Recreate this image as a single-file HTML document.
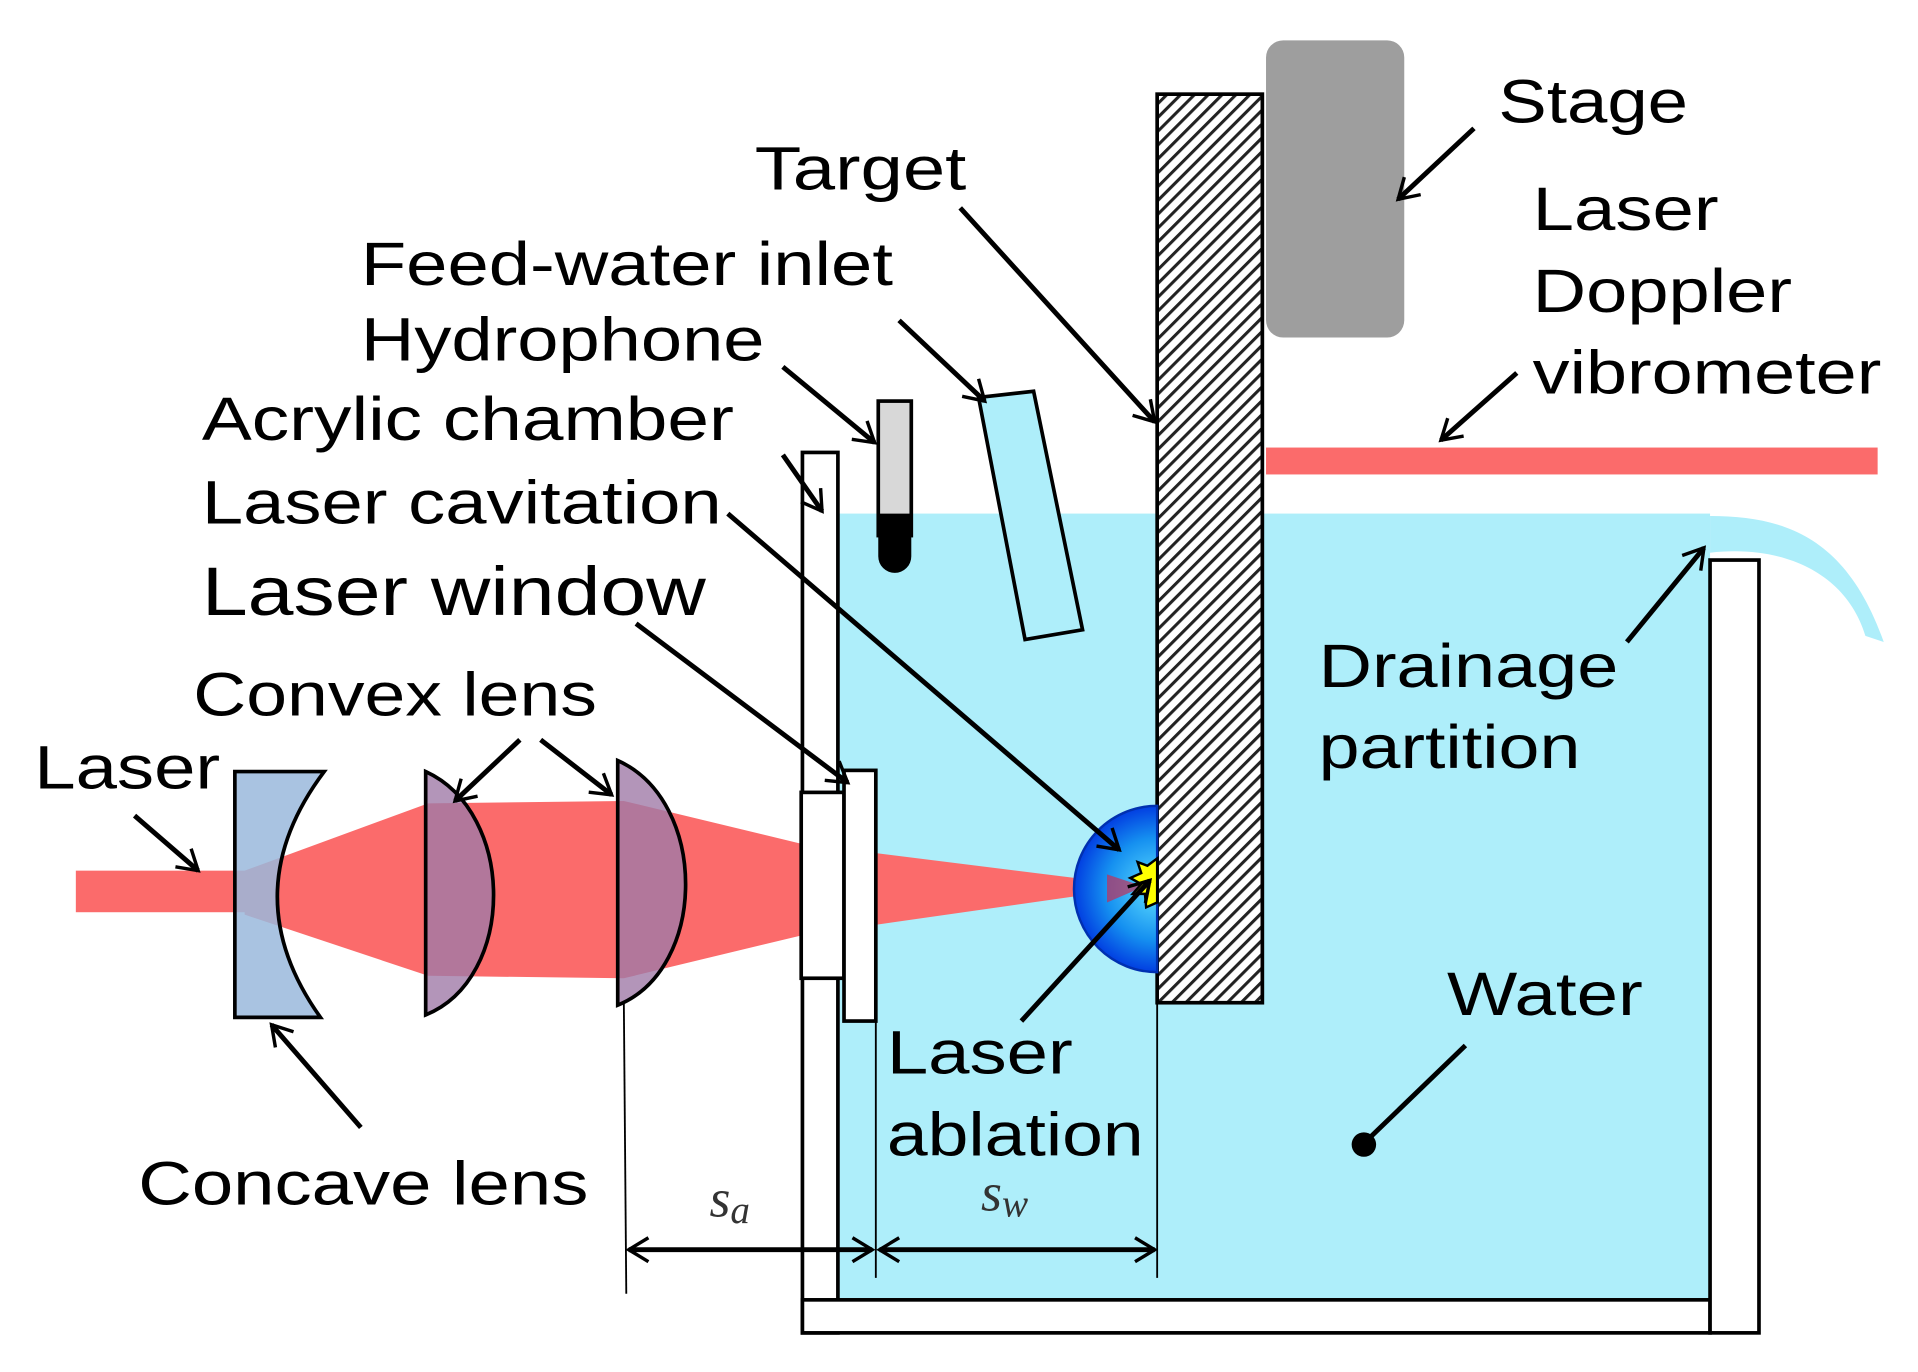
<!DOCTYPE html>
<html><head><meta charset="utf-8"><style>
html,body{margin:0;padding:0;background:#fff;}
svg{display:block;}
text{font-family:"Liberation Sans",sans-serif;font-size:50px;fill:#000;}
</style></head><body>
<svg width="1918" height="1372" viewBox="0 0 1568 1122" preserveAspectRatio="none" xmlns="http://www.w3.org/2000/svg">
<defs>
<pattern id="h" width="8" height="8" patternUnits="userSpaceOnUse" patternTransform="rotate(45)">
<rect width="8" height="8" fill="#fff"/><rect width="2.5" height="8" fill="#222"/></pattern>
<radialGradient id="b" cx="946" cy="727" r="70" gradientUnits="userSpaceOnUse">
<stop offset="0" stop-color="#60e0ff"/><stop offset="0.6" stop-color="#1590f0"/><stop offset="1" stop-color="#0038e0"/></radialGradient>
<marker id="a" viewBox="0 0 10 10" refX="9" refY="5" markerWidth="7" markerHeight="7" orient="auto-start-reverse" markerUnits="userSpaceOnUse" style="overflow:visible">
<path d="M-14,-9 L9,5 L-14,19" fill="none" stroke="#000" stroke-width="4"/></marker>
</defs>
<rect x="685" y="420" width="713" height="643" fill="#aeeefa"/>
<path d="M1398,422 C1460,422 1510,440 1540,525 L1525,520 C1510,470 1460,445 1398,452 Z" fill="#aeeefa"/>
<rect x="656" y="370" width="29" height="720" fill="#fff" stroke="#000" stroke-width="3"/>
<rect x="656" y="1063" width="742" height="27" fill="#fff" stroke="#000" stroke-width="3"/>
<rect x="1398" y="458" width="40" height="632" fill="#fff" stroke="#000" stroke-width="3"/>
<rect x="946" y="77" width="86" height="743" fill="url(#h)" stroke="#000" stroke-width="3"/>
<rect x="1035" y="33" width="113" height="243" rx="14" fill="#9e9e9e"/>
<rect x="1035" y="366" width="500" height="22" fill="#fb6b6b"/>
<rect x="718" y="328" width="27" height="110" fill="#d8d8d8" stroke="#000" stroke-width="3"/>
<path d="M718,420 L745,420 L745,455 A13.5,13.5 0 0 1 718,455 Z" fill="#000"/>
<polygon points="800,325 845,320 885,515 838,523" fill="#aeeefa" stroke="#000" stroke-width="3"/>
<rect x="62" y="712" width="140" height="34" fill="#fb6b6b"/>
<polygon points="200,712 350,657 510,655 655,690 935,725 655,765 510,800 350,798 200,748" fill="#fb6b6b"/>
<path d="M946,659 A68,68 0 0 0 946,795 Z" fill="url(#b)" stroke="#0030b0" stroke-width="2"/>
<polygon points="905,715 935,725 905,738" fill="#c0305a" opacity="0.7"/>
<path d="M946,702 L938,708 L930,705 L933,714 L924,718 L933,723 L926,731 L936,731 L937,742 L946,738 Z" fill="#ffff00" stroke="#000" stroke-width="2"/>
<path d="M192,631 L265,631 Q190,731 262,832 L192,832 Z" fill="#9ab8dc" fill-opacity="0.85" stroke="#000" stroke-width="3"/>
<path d="M348,631 C422,665 422,800 348,830 Z" fill="#a07aa8" fill-opacity="0.8" stroke="#000" stroke-width="3"/>
<path d="M505,622 C579,655 579,792 505,822 Z" fill="#a07aa8" fill-opacity="0.8" stroke="#000" stroke-width="3"/>
<rect x="655" y="648" width="35" height="152" fill="#fff" stroke="#000" stroke-width="3"/>
<rect x="690" y="630" width="26" height="205" fill="#fff" stroke="#000" stroke-width="3"/>
<g stroke="#000" stroke-width="1.5"><line x1="510" y1="820" x2="512" y2="1058"/><line x1="716" y1="835" x2="716" y2="1045"/><line x1="946" y1="820" x2="946" y2="1045"/></g>
<g stroke="#000" stroke-width="4" marker-start="url(#a)" marker-end="url(#a)"><line x1="514" y1="1022" x2="713" y2="1022"/><line x1="719" y1="1022" x2="944" y2="1022"/></g>
<g stroke="#000" stroke-width="4" marker-end="url(#a)">
<line x1="1205" y1="105" x2="1143" y2="163"/>
<line x1="1240" y1="305" x2="1178" y2="360"/>
<line x1="785" y1="170" x2="944" y2="345"/>
<line x1="735" y1="262" x2="805" y2="328"/>
<line x1="640" y1="300" x2="715" y2="362"/>
<line x1="640" y1="372" x2="672" y2="418"/>
<line x1="595" y1="420" x2="915" y2="695"/>
<line x1="520" y1="510" x2="693" y2="640"/>
<line x1="425" y1="605" x2="372" y2="655"/>
<line x1="442" y1="605" x2="500" y2="650"/>
<line x1="110" y1="667" x2="162" y2="712"/>
<line x1="295" y1="922" x2="222" y2="838"/>
<line x1="835" y1="835" x2="940" y2="720"/>
<line x1="1330" y1="525" x2="1393" y2="448"/>
</g>
<line x1="1198" y1="855" x2="1115" y2="935" stroke="#000" stroke-width="4"/>
<circle cx="1115" cy="936" r="10" fill="#000"/>
<g lengthAdjust="spacingAndGlyphs">
<text x="1225" y="100" textLength="155" lengthAdjust="spacingAndGlyphs">Stage</text>
<text x="1253" y="188" textLength="152" lengthAdjust="spacingAndGlyphs">Laser</text>
<text x="1253" y="255" textLength="212" lengthAdjust="spacingAndGlyphs">Doppler</text>
<text x="1253" y="322" textLength="285" lengthAdjust="spacingAndGlyphs">vibrometer</text>
<text x="617" y="155" textLength="173" lengthAdjust="spacingAndGlyphs">Target</text>
<text x="295" y="233" textLength="435" lengthAdjust="spacingAndGlyphs">Feed-water inlet</text>
<text x="295" y="295" textLength="330" lengthAdjust="spacingAndGlyphs">Hydrophone</text>
<text x="165" y="360" textLength="435" lengthAdjust="spacingAndGlyphs">Acrylic chamber</text>
<text x="165" y="428" textLength="425" lengthAdjust="spacingAndGlyphs">Laser cavitation</text>
<text x="165" y="503" style="font-size:56px" textLength="412" lengthAdjust="spacingAndGlyphs">Laser window</text>
<text x="158" y="585" textLength="330" lengthAdjust="spacingAndGlyphs">Convex lens</text>
<text x="28" y="645" textLength="152" lengthAdjust="spacingAndGlyphs">Laser</text>
<text x="1078" y="562" textLength="245" lengthAdjust="spacingAndGlyphs">Drainage</text>
<text x="1078" y="628" textLength="214" lengthAdjust="spacingAndGlyphs">partition</text>
<text x="1183" y="830" textLength="160" lengthAdjust="spacingAndGlyphs">Water</text>
<text x="725" y="878" textLength="152" lengthAdjust="spacingAndGlyphs">Laser</text>
<text x="725" y="945" textLength="210" lengthAdjust="spacingAndGlyphs">ablation</text>
<text x="113" y="985" textLength="368" lengthAdjust="spacingAndGlyphs">Concave lens</text>
</g>
<text x="580" y="995" style="font-family:'Liberation Serif',serif;font-style:italic;font-size:44px;fill:#333">s<tspan dy="5" style="font-size:32px">a</tspan></text>
<text x="802" y="990" style="font-family:'Liberation Serif',serif;font-style:italic;font-size:44px;fill:#333">s<tspan dy="5" style="font-size:32px">w</tspan></text>
</svg>
</body></html>
